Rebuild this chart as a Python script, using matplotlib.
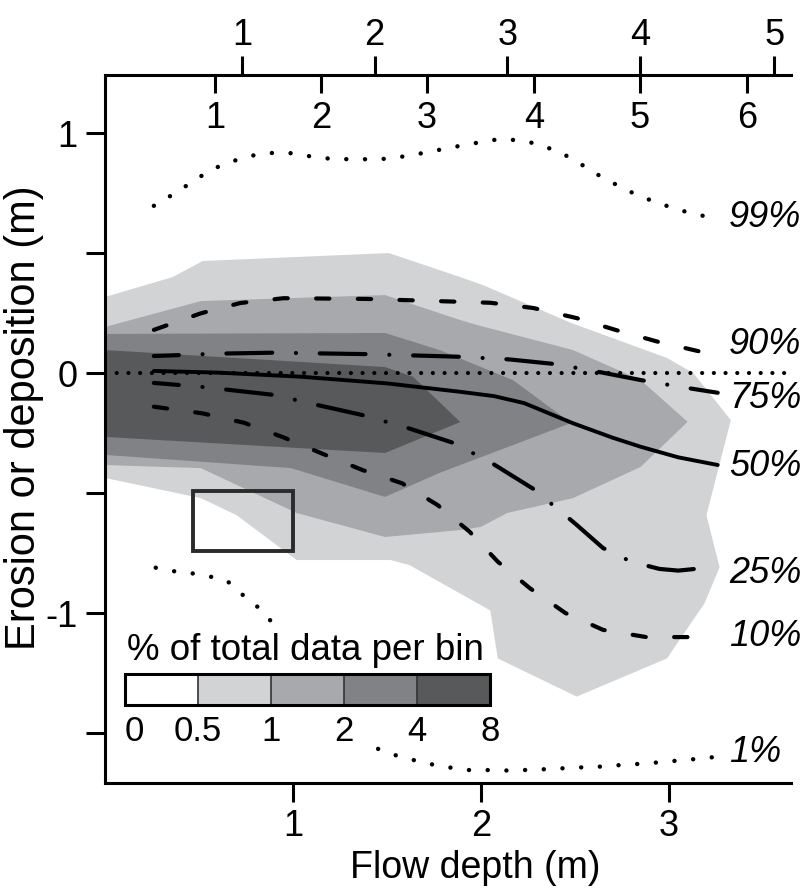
import numpy as np
import matplotlib
matplotlib.use("Agg")
import matplotlib.pyplot as plt
import matplotlib.transforms as mtransforms
from matplotlib.colors import ListedColormap, BoundaryNorm
from matplotlib.cm import ScalarMappable
from matplotlib.patches import Rectangle

plt.rcParams['font.family'] = ['Liberation Sans', 'DejaVu Sans']

# ---- data ----
# shaded bins (% of total data per bin), outlines in (flow depth, erosion) units
bin_levels = [0, 0.5, 1, 2, 4, 8]
bin_colors = ['#ffffff', '#d1d3d4', '#a7a9ac', '#808285', '#58595b']

light_x = [0.0, 0.36, 0.52, 1.51, 1.89, 2.01, 2.48, 2.99, 3.13, 3.33, 3.20, 3.27, 3.19,
           2.99, 2.51, 2.09, 2.05, 1.62, 1.52, 1.02, 0.70, 0.51, 0.0]
light_y = [0.318, 0.401, 0.468, 0.501, 0.401, 0.368, 0.210, 0.064, 0.001, -0.195, -0.591,
           -0.808, -0.958, -1.188, -1.347, -1.188, -0.988, -0.799, -0.778, -0.778, -0.591,
           -0.520, -0.436]

mid_x = [0.0, 0.51, 1.49, 1.89, 2.00, 2.49, 2.85, 3.10, 2.85, 2.49, 2.14, 2.00, 1.89, 1.49,
         1.02, 0.51, 0.0]
mid_y = [0.193, 0.301, 0.326, 0.222, 0.197, 0.097, -0.028, -0.202, -0.390, -0.520, -0.582,
         -0.640, -0.653, -0.682, -0.582, -0.395, -0.382]

dark_x = [0.0, 1.49, 1.78, 2.17, 2.48, 1.78, 1.49, 0.99, 0.0]
dark_y = [0.164, 0.168, 0.097, -0.028, -0.207, -0.415, -0.515, -0.395, -0.340]

darkest_x = [0.0, 1.49, 1.64, 1.89, 1.49, 0.0]
darkest_y = [0.097, 0.026, -0.015, -0.203, -0.332, -0.265]

# percentile curves
p99_x = [0.26, 0.35, 0.44, 0.52, 0.61, 0.70, 0.80, 0.90, 1.00, 1.10, 1.20, 1.30, 1.40, 1.50,
         1.60, 1.70, 1.79, 1.89, 1.99, 2.09, 2.19, 2.29, 2.38, 2.47, 2.56, 2.64, 2.73, 2.82,
         2.91, 3.01, 3.10, 3.20]
p99_y = [0.698, 0.740, 0.785, 0.826, 0.864, 0.889, 0.910, 0.919, 0.917, 0.903, 0.894, 0.892,
         0.892, 0.894, 0.905, 0.919, 0.933, 0.948, 0.962, 0.975, 0.972, 0.958, 0.933, 0.901,
         0.858, 0.819, 0.782, 0.747, 0.719, 0.692, 0.671, 0.653]

p90_x = [0.26, 0.51, 0.72, 0.95, 1.39, 1.89, 2.05, 2.28, 2.51, 2.72, 2.94, 3.17]
p90_y = [0.181, 0.250, 0.293, 0.313, 0.310, 0.298, 0.294, 0.272, 0.230, 0.180, 0.132, 0.090]

p75_x = [0.26, 0.60, 0.90, 1.39, 1.89, 2.15, 2.39, 2.60, 2.85, 3.05, 3.26]
p75_y = [0.072, 0.082, 0.086, 0.080, 0.069, 0.058, 0.039, 0.010, -0.028, -0.055, -0.081]

p50_x = [0.26, 0.60, 1.04, 1.50, 1.89, 2.07, 2.23, 2.49, 2.70, 2.85, 3.05, 3.26]
p50_y = [0.010, 0.003, -0.014, -0.042, -0.077, -0.095, -0.124, -0.208, -0.268, -0.306,
         -0.350, -0.382]

p25_x = [0.26, 0.51, 0.90, 1.13, 1.37, 1.60, 1.85, 2.05, 2.28, 2.50, 2.65, 2.80, 2.95, 3.05,
         3.14]
p25_y = [-0.040, -0.056, -0.090, -0.132, -0.174, -0.225, -0.289, -0.370, -0.482, -0.625,
         -0.728, -0.785, -0.815, -0.822, -0.815]

p10_x = [0.26, 0.52, 0.74, 0.95, 1.16, 1.37, 1.58, 1.77, 1.94, 2.09, 2.26, 2.45, 2.65, 2.88,
         3.10]
p10_y = [-0.139, -0.167, -0.206, -0.267, -0.336, -0.403, -0.458, -0.549, -0.660, -0.785,
         -0.895, -0.999, -1.069, -1.099, -1.099]

p01_x = [0.27, 0.36, 0.46, 0.56, 0.65, 0.72, 0.81, 0.88, 1.00, 1.15, 1.30, 1.45, 1.54, 1.64,
         1.73, 1.83, 1.93, 2.03, 2.13, 2.23, 2.33, 2.43, 2.53, 2.63, 2.73, 2.83, 2.93, 3.03,
         3.13, 3.23]
p01_y = [-0.810, -0.824, -0.833, -0.847, -0.865, -0.915, -0.972, -1.030, -1.150, -1.300,
         -1.450, -1.564, -1.590, -1.611, -1.628, -1.642, -1.653, -1.653, -1.655, -1.653,
         -1.650, -1.646, -1.642, -1.639, -1.633, -1.628, -1.622, -1.615, -1.608, -1.600]

pct_labels = ['99%', '90%', '75%', '50%', '25%', '10%', '1%']
pct_label_y = [0.651, 0.122, -0.103, -0.390, -0.835, -1.097, -1.580]

# highlighted bin
box_x = [0.47, 1.00]
box_y = [-0.74, -0.49]

# axis ticks
bottom_ticks = [1, 2, 3]
left_ticks = [1, 0.5, 0, -0.5, -1, -1.5]
left_labels = ['1', '', '0', '', '-1', '']
top_outer_pos = [0.73, 1.435, 2.14, 2.848, 3.56]
top_outer_labels = ['1', '2', '3', '4', '5']
top_inner_pos = [0.585, 1.149, 1.713, 2.282, 2.846, 3.415]
top_inner_labels = ['1', '2', '3', '4', '5', '6']

# ---- figure ----
W, H = 804, 893
fig = plt.figure(figsize=(W / 100, H / 100), dpi=100)
ax = fig.add_axes([105 / W, 1 - 783 / H, 686 / W, 708 / H])
ax.set_xlim(0, 3.65)
ax.set_ylim(-1.707, 1.243)

for xs, ys, c in zip([light_x, mid_x, dark_x, darkest_x],
                     [light_y, mid_y, dark_y, darkest_y], bin_colors[1:]):
    ax.fill(xs, ys, color=c, lw=0, zorder=1)

ax.add_patch(Rectangle((box_x[0], box_y[0]), box_x[1] - box_x[0], box_y[1] - box_y[0],
                       fill=False, ec='#2b2b2b', lw=2.8, zorder=3))

ax.axhline(0, color='k', lw=3, ls=(0, (0.01, 2.8)), dash_capstyle='round', zorder=4)

dotted = (0, (0.01, 4.2))
dashed = (0, (3.2, 6.8))
dashdot = (5, (11, 5.7, 0.01, 5.7))
ax.plot(p99_x, p99_y, color='k', lw=3.2, ls=dotted, dash_capstyle='round', zorder=4)
ax.plot(p01_x, p01_y, color='k', lw=3.2, ls=dotted, dash_capstyle='round', zorder=4)
ax.plot(p90_x, p90_y, color='k', lw=3, ls=dashed, dash_capstyle='round', zorder=4)
ax.plot(p10_x, p10_y, color='k', lw=3, ls=dashed, dash_capstyle='round', zorder=4)
ax.plot(p75_x, p75_y, color='k', lw=3, ls=dashdot, dash_capstyle='round', zorder=4)
ax.plot(p25_x, p25_y, color='k', lw=3, ls=dashdot, dash_capstyle='round', zorder=4)
ax.plot(p50_x, p50_y, color='k', lw=2.8, solid_capstyle='round', zorder=4)

for lab, y in zip(pct_labels, pct_label_y):
    ax.text(3.32, y, lab, fontsize=26, style='italic', ha='left', va='center', clip_on=False)

# spines / ticks
ax.spines['right'].set_visible(False)
for s in ['left', 'bottom', 'top']:
    ax.spines[s].set_linewidth(2.2)
ax.set_xticks(bottom_ticks)
ax.set_yticks(left_ticks)
ax.set_yticklabels(left_labels)
ax.tick_params(axis='both', direction='out', length=14, width=2.2, labelsize=26)
ax.tick_params(axis='x', pad=5)
ax.tick_params(axis='y', pad=6)

ax_top = ax.twiny()
ax_top.set_xlim(ax.get_xlim())
ax_top.set_xticks(top_outer_pos)
ax_top.set_xticklabels(top_outer_labels)
ax_top.tick_params(axis='x', direction='out', length=14, width=2.2, labelsize=26, pad=2)
for s in ax_top.spines.values():
    s.set_visible(False)

ax_in = ax.twiny()
ax_in.set_xlim(ax.get_xlim())
ax_in.set_xticks(top_inner_pos)
ax_in.set_xticklabels([])
ax_in.tick_params(axis='x', direction='in', length=13, width=2.2)
for s in ax_in.spines.values():
    s.set_visible(False)
trans = mtransforms.blended_transform_factory(ax.transData, ax.transAxes)
for p, lab in zip(top_inner_pos, top_inner_labels):
    ax.text(p, (783 - 118) / 708, lab, fontsize=26, ha='center', va='center', transform=trans)

fig.text(475 / W, 1 - 868 / H, 'Flow depth (m)', fontsize=27, ha='center', va='center')
fig.text(24 / W, 1 - 418 / H, 'Erosion or deposition (m)', fontsize=30, rotation=90,
         ha='center', va='center')

# ---- legend ----
leg = fig.add_axes([115 / W, 1 - 746 / H, 378 / W, 119 / H], zorder=5)
leg.set_facecolor('white')
leg.set_xticks([])
leg.set_yticks([])
for s in leg.spines.values():
    s.set_visible(False)
fig.text(127 / W, 1 - 660 / H, '% of total data per bin', fontsize=26.5, ha='left',
         va='baseline', zorder=6)

cax = fig.add_axes([125 / W, 1 - 705 / H, 365 / W, 31 / H], zorder=6)
cmap = ListedColormap(bin_colors)
norm = BoundaryNorm(bin_levels, cmap.N)
cb = fig.colorbar(ScalarMappable(norm=norm, cmap=cmap), cax=cax, orientation='horizontal',
                  spacing='uniform', ticks=bin_levels, drawedges=True)
cb.set_ticklabels([str(v) for v in bin_levels])
cb.ax.tick_params(length=0, labelsize=25, pad=7)
cb.outline.set_linewidth(2.2)
cb.dividers.set_color('#333333')
cb.dividers.set_linewidth(1.2)
cb.ax.get_xticklabels()[0].set_ha('left')

fig.savefig('out.png', dpi=100)
